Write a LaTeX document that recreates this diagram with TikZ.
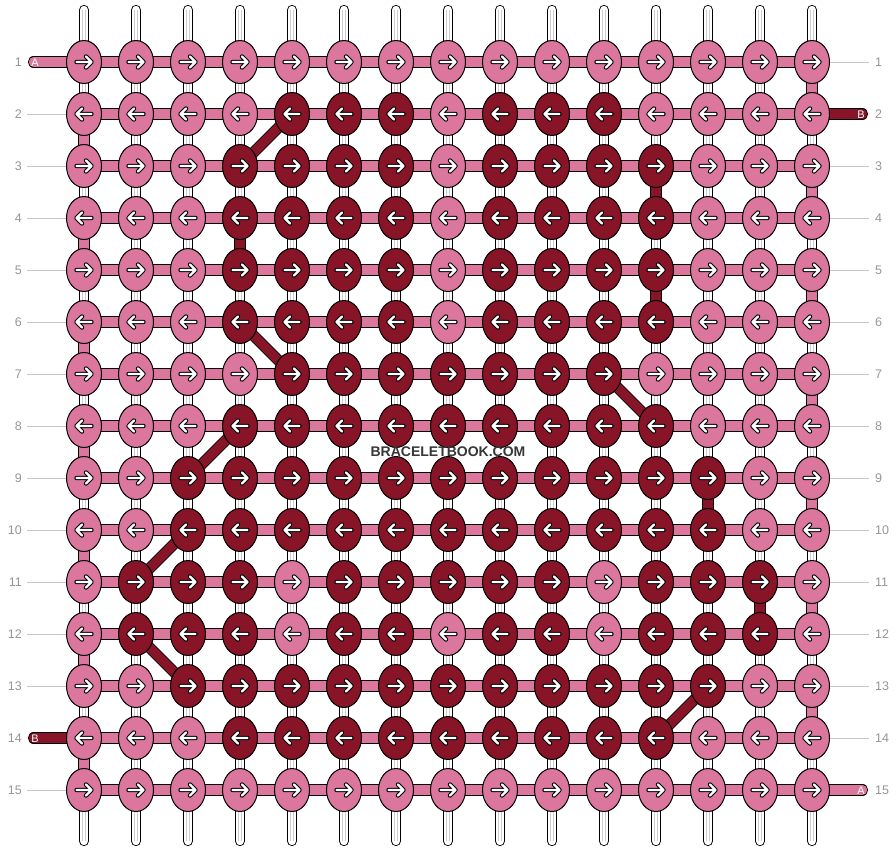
\documentclass[tikz,border=0pt]{standalone}
\usepackage{fontspec}
\setmainfont{Liberation Sans}
\usepackage{tikz}
\usetikzlibrary{shapes.geometric}

\definecolor{klight}{RGB}{219,118,156}
\definecolor{kdark}{RGB}{135,20,39}
\definecolor{numgray}{RGB}{150,150,150}
\definecolor{sitegray}{RGB}{55,55,55}

\tikzset{
  strand/.style={draw=black, line width=0.9pt, double=white, double distance=8.4pt, line cap=round},
  strandmid/.style={draw=gray!40, line width=0.6pt, double=white, double distance=2.6pt},
  band/.style={draw=black, line width=0.9pt, double=klight, double distance=9.4pt},
  bandd/.style={band, double=kdark},
  knot/.style={ellipse, draw=black, line width=1pt, minimum width=35pt, minimum height=43pt, inner sep=0pt},
  k0/.style={fill=klight},
  k1/.style={fill=kdark},
  arrowmark/.style={draw=black, line width=1pt, double=white, double distance=2.4pt, line cap=round, line join=round},
  rowno/.style={text=numgray, inner sep=0pt, font=\fontsize{12.5}{12.5}\selectfont},
  guide/.style={draw=gray!45, line width=0.8pt},
  endlbl/.style={text=white, inner sep=0pt, font=\fontsize{11}{11}\selectfont}
}

\begin{document}
\begin{tikzpicture}[x=1pt,y=-1pt]
\useasboundingbox (0,0) rectangle (896,852);

% grid points
\foreach \r in {1,...,15}
  \foreach \c in {1,...,15}
    \coordinate (p-\r-\c) at ({84+52*(\c-1)},{62+52*(\r-1)});

% white strands
\foreach \c in {1,...,15} {
  \coordinate (top-\c) at ({84+52*(\c-1)},10);
  \coordinate (bot-\c) at ({84+52*(\c-1)},841);
  \draw[strand] (top-\c) -- (bot-\c);
  \draw[strandmid] (top-\c) -- (bot-\c);
}

% working strand
\foreach \r in {1,...,15}
  \draw[band] (p-\r-1) -- (p-\r-15);
\foreach \r [evaluate=\r as \s using int(\r+1)] in {1,3,...,13}
  \draw[band] (p-\r-15) -- (p-\s-15);
\foreach \r [evaluate=\r as \s using int(\r+1)] in {2,4,...,14}
  \draw[band] (p-\r-1) -- (p-\s-1);

% dark strand
\foreach \a/\b in {2-5/3-4, 3-12/4-12, 4-4/5-4, 5-12/6-12, 6-4/7-5, 7-11/8-12,
                   8-4/9-3, 9-13/10-13, 10-3/11-2, 11-14/12-14, 12-2/13-3, 13-13/14-12}
  \draw[bandd] (p-\a) -- (p-\b);

% loose ends
\coordinate (endA-in) at (33.5,62);
\coordinate (endB-out) at (862.5,114);
\coordinate (endB-in) at (33.5,738);
\coordinate (endA-out) at (862.5,790);
\draw[band, line cap=round] (endA-in) -- (p-1-1);
\draw[bandd, line cap=round] (p-2-15) -- (endB-out);
\draw[bandd, line cap=round] (endB-in) -- (p-14-1);
\draw[band, line cap=round] (p-15-15) -- (endA-out);
\node[endlbl] (lblA-in) at (35,62.5) {A};
\node[endlbl] (lblB-out) at (861,114.5) {B};
\node[endlbl] (lblB-in) at (35,738.5) {B};
\node[endlbl] (lblA-out) at (861,790.5) {A};

\fill[white] (372,446) rectangle (524,458);

% knots
\foreach \r/\pat in {
   1/{0,0,0,0,0,0,0,0,0,0,0,0,0,0,0},
   2/{0,0,0,0,1,1,1,0,1,1,1,0,0,0,0},
   3/{0,0,0,1,1,1,1,0,1,1,1,1,0,0,0},
   4/{0,0,0,1,1,1,1,0,1,1,1,1,0,0,0},
   5/{0,0,0,1,1,1,1,0,1,1,1,1,0,0,0},
   6/{0,0,0,1,1,1,1,0,1,1,1,1,0,0,0},
   7/{0,0,0,0,1,1,1,1,1,1,1,0,0,0,0},
   8/{0,0,0,1,1,1,1,1,1,1,1,1,0,0,0},
   9/{0,0,1,1,1,1,1,1,1,1,1,1,1,0,0},
  10/{0,0,1,1,1,1,1,1,1,1,1,1,1,0,0},
  11/{0,1,1,1,0,1,1,1,1,1,0,1,1,1,0},
  12/{0,1,1,1,0,1,1,0,1,1,0,1,1,1,0},
  13/{0,0,1,1,1,1,1,1,1,1,1,1,1,0,0},
  14/{0,0,0,1,1,1,1,1,1,1,1,1,0,0,0},
  15/{0,0,0,0,0,0,0,0,0,0,0,0,0,0,0}} {
  \pgfmathsetmacro\dir{ifthenelse(mod(\r,2)==1,1,-1)}
  \foreach \v [count=\c] in \pat {
    \node[knot, k\v] (k-\r-\c) at (p-\r-\c) {};
    \draw[arrowmark, shift={(p-\r-\c)}, xscale=\dir]
      (-7.5,0) -- (7.5,0) (2,-5.5) -- (7.5,0) -- (2,5.5);
  }
}

% row numbers
\foreach \r in {1,...,15} {
  \node[rowno, anchor=east] (nl-\r) at (22,{62+52*(\r-1)}) {\r};
  \node[rowno, anchor=west] (nr-\r) at (875,{62+52*(\r-1)}) {\r};
}
\foreach \r in {2,...,13,15}
  \draw[guide] ([xshift=5pt]nl-\r.east) -- (k-\r-1.west);
\foreach \r in {1,3,4,...,14}
  \draw[guide] (k-\r-15.east) -- ([xshift=-6pt]nr-\r.west);

\node[text=sitegray, font=\bfseries\fontsize{14}{14}\selectfont] (site) at (448,452) {BRACELETBOOK.COM};
\end{tikzpicture}
\end{document}
